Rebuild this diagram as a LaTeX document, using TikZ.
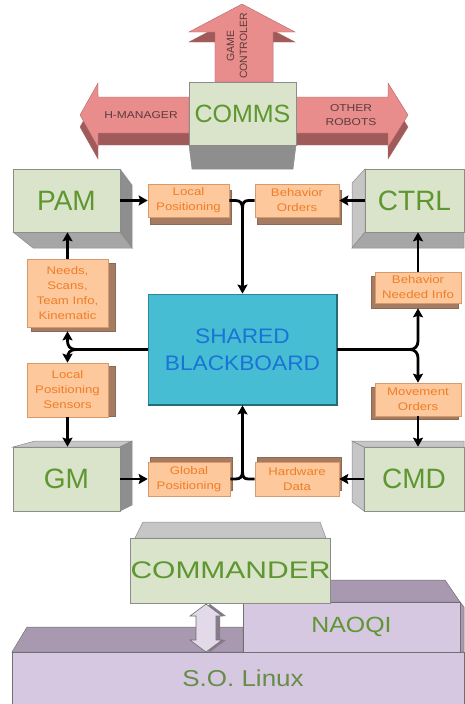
\documentclass[tikz,border=0pt]{standalone}
\usepackage{fontspec}
\setmainfont{Liberation Sans}
\newfontfamily\fwa[FakeStretch=1.2]{Liberation Sans}
\newfontfamily\fwb[FakeStretch=1.25]{Liberation Sans}
\newfontfamily\fwc[FakeStretch=1.13]{Liberation Sans}
\newfontfamily\fwd[FakeStretch=1.08]{Liberation Sans}
\usetikzlibrary{arrows.meta}
\definecolor{fgreen}{HTML}{D9E4CB}
\definecolor{tgreen}{HTML}{5E9630}
\definecolor{edgeg}{HTML}{8C8C8C}
\definecolor{gdark}{HTML}{8E8E8E}
\definecolor{gmid}{HTML}{A6A6A6}
\definecolor{glight}{HTML}{C6C6C6}
\definecolor{pinkf}{HTML}{E98C8C}
\definecolor{pinkd}{HTML}{A05A5A}
\definecolor{pinke}{HTML}{B06A6A}
\definecolor{ptext}{HTML}{5A3C3C}
\definecolor{ofill}{HTML}{FDC89B}
\definecolor{oedge}{HTML}{D89A6A}
\definecolor{otext}{HTML}{F07D28}
\definecolor{obrown}{HTML}{A57C62}
\definecolor{sbfill}{HTML}{47BDD4}
\definecolor{sbedge}{HTML}{2D8796}
\definecolor{sbtext}{HTML}{1A73D6}
\definecolor{pfront}{HTML}{D6C8E0}
\definecolor{ptop}{HTML}{A898B0}
\definecolor{pedge}{HTML}{707070}
\definecolor{ltext}{HTML}{678C4A}
\begin{document}
\begin{tikzpicture}[x=1pt,y=-1pt,
  front/.style={draw=edgeg, line width=0.6pt, fill=fgreen, text=tgreen, inner sep=0pt,
    font=\fontsize{28}{30}\selectfont},
  faced/.style={fill=gdark, draw=edgeg, line width=0.5pt},
  facem/.style={fill=gmid, draw=edgeg, line width=0.5pt},
  facel/.style={fill=glight, draw=edgeg, line width=0.5pt},
  obox/.style={draw=oedge, line width=0.6pt, fill=ofill, text=otext, inner sep=0pt, align=center,
    font=\fwa\fontsize{11}{15}\selectfont},
  oshadow/.style={fill=obrown, draw=obrown!85!black, line width=0.4pt},
  conn/.style={line width=2.8pt, -{Stealth[length=9pt,width=10pt,inset=1.5pt]}},
  wire/.style={line width=2.8pt},
  parrow/.style={fill=pinkf, draw=pinke, line width=0.4pt},
  pdark/.style={fill=pinkd, draw=pinke, line width=0.4pt},
  ptxt/.style={text=ptext, inner sep=0pt, align=center},
  pbox/.style={draw=pedge, line width=0.6pt, fill=pfront, inner sep=0pt},
  ptopface/.style={fill=ptop, draw=pedge, line width=0.5pt}
]
\useasboundingbox (0,0) rectangle (464,704);

% ---------- COMMS arrows ----------
\fill[pdark] [shift={(0,12)}] (189,97) -- (98,97) -- (98,83) -- (80,115) -- (98,147) -- (98,133) -- (189,133) -- cycle;
\filldraw[parrow] (189,97) -- (98,97) -- (98,83) -- (80,115) -- (98,147) -- (98,133) -- (189,133) -- cycle;
\fill[pdark] [shift={(0,12)}] (296,97) -- (388,97) -- (388,83) -- (408,115) -- (388,147) -- (388,133) -- (296,133) -- cycle;
\filldraw[parrow] (296,97) -- (388,97) -- (388,83) -- (408,115) -- (388,147) -- (388,133) -- (296,133) -- cycle;
\fill[pdark] [shift={(0,10)}] (215,82) -- (215,32) -- (189,32) -- (242,4) -- (295,32) -- (273,32) -- (273,82) -- cycle;
\filldraw[parrow] (215,82) -- (215,32) -- (189,32) -- (242,4) -- (295,32) -- (273,32) -- (273,82) -- cycle;
\node[ptxt, font=\fwa\fontsize{10}{12}\selectfont] (hman) at (141,115) {H-MANAGER};
\node[ptxt, font=\fwa\fontsize{10}{14}\selectfont] (oth) at (351,115) {OTHER\\ROBOTS};
\node[ptxt, rotate=90, font=\fontsize{10.5}{13}\selectfont] (game) at (237,46) {GAME\\CONTROLER};

% COMMS box
\filldraw[faced] (189,145) -- (296,145) -- (293,169) -- (192,169) -- cycle;
\node[front, minimum width=107pt, minimum height=63pt, font=\fontsize{25}{27}\selectfont] (comms) at (242.5,113.5) {COMMS};

% ---------- 3D green boxes ----------
% PAM
\filldraw[faced] (120,169) -- (132,185) -- (132,248) -- (120,232) -- cycle;
\filldraw[facem] (13,232) -- (120,232) -- (132,248) -- (33,248) -- cycle;
\node[front, minimum width=107pt, minimum height=63pt] (pam) at (66.5,200.5) {PAM};
% CTRL
\filldraw[facel] (365,169) -- (352,183) -- (352,248) -- (365,232) -- cycle;
\filldraw[facem] (365,232) -- (352,248) -- (464,248) -- (464,232) -- cycle;
\node[front, minimum width=99pt, minimum height=63pt] (ctrl) at (414.5,200.5) {CTRL};
% GM
\filldraw[facel] (13,447) -- (35,441) -- (132,441) -- (120,447) -- cycle;
\filldraw[faced] (120,447) -- (132,441) -- (132,505) -- (120,511) -- cycle;
\node[front, minimum width=107pt, minimum height=64pt] (gm) at (66.5,479) {GM};
% CMD
\filldraw[facel] (364,447) -- (352,441) -- (352,502) -- (364,511) -- cycle;
\filldraw[facel] (352,441) -- (464,441) -- (464,447) -- (364,447) -- cycle;
\node[front, minimum width=100pt, minimum height=64pt] (cmd) at (414,479) {CMD};

% ---------- Shared blackboard ----------
\node[draw=sbedge, line width=0.8pt, fill=sbfill, text=sbtext, inner sep=0pt, align=center,
  minimum width=189pt, minimum height=111pt, font=\fwd\fontsize{21}{27}\selectfont]
  (sb) at (242.5,349.5) {SHARED\\BLACKBOARD};
\draw[sbedge!80!black, line width=2pt] (sb.north east) -- (sb.south east) -- (sb.south west);

% ---------- orange boxes ----------
\fill[oshadow] (150,190) rectangle (231,224);
\node[obox, minimum width=81pt, minimum height=33pt] (lp) at (188.5,200.5) {Local\\Positioning};
\fill[oshadow] (257,190) rectangle (341,224);
\node[obox, minimum width=84pt, minimum height=33pt] (bo) at (297,200.5) {Behavior\\Orders};
\fill[oshadow] (31,263) rectangle (115,331);
\node[obox, minimum width=81pt, minimum height=68pt] (needs) at (67.5,293) {Needs,\\Scans,\\Team Info,\\Kinematic};
\fill[oshadow] (371,276) rectangle (458,308);
\node[obox, minimum width=86pt, minimum height=31pt] (bni) at (418,287.5) {Behavior\\Needed Info};
\fill[oshadow] (31,366) rectangle (115,416);
\node[obox, minimum width=81pt, minimum height=54pt] (lps) at (67.5,390) {Local\\Positioning\\Sensors};
\fill[oshadow] (371,387) rectangle (458,419);
\node[obox, minimum width=86pt, minimum height=33pt] (mo) at (418,399.5) {Movement\\Orders};
\fill[oshadow] (150,457) rectangle (232,490);
\node[obox, minimum width=82pt, minimum height=34pt] (gp) at (189,479) {Global\\Positioning};
\fill[oshadow] (257,457) rectangle (341,490);
\node[obox, minimum width=84pt, minimum height=34pt] (hd) at (297,479) {Hardware\\Data};

% ---------- connectors ----------
\draw[conn] (pam.east) -- (lp.west);
\draw[conn] (ctrl.west) -- (bo.east);
\draw[conn] (gm.east) -- (gp.west);
\draw[conn] (cmd.west) -- (hd.east);
\draw[conn] (needs.north) -- (needs.north |- pam.south);
\draw[conn] (bni.north) -- (bni.north |- ctrl.south);
\draw[conn] (lps.south) -- (lps.south |- gm.north);
\draw[conn] (mo.south) -- (mo.south |- cmd.north);

\coordinate (jt) at (242.5,209);
\draw[wire] (lp.east) -- ++(6,0) .. controls +(5,0) and +(0,-6) .. (jt);
\draw[wire] (bo.west) -- ++(-6,0) .. controls +(-5,0) and +(0,-6) .. (jt);
\draw[conn] (jt) -- (sb.north);

\coordinate (jb) at (242.5,471);
\draw[wire] (gp.east) -- ++(5,0) .. controls +(5,0) and +(0,6) .. (jb);
\draw[wire] (hd.west) -- ++(-6,0) .. controls +(-5,0) and +(0,6) .. (jb);
\draw[conn] (jb) -- (sb.south);

\coordinate (jl) at (76,349.5);
\coordinate (jlu) at (67.5,341);
\coordinate (jld) at (67.5,358);
\draw[wire] (sb.west) -- (jl);
\draw[conn] (jl) .. controls (70,349.5) and (67.5,346) .. (jlu) -- ([yshift=-4pt]needs.south);
\draw[conn] (jl) .. controls (70,349.5) and (67.5,353) .. (jld) -- (lps.north);

\coordinate (jr) at (410,349.5);
\coordinate (jru) at (418,341);
\coordinate (jrd) at (418,358);
\draw[wire] (sb.east) -- (jr);
\draw[conn] (jr) .. controls (415,349.5) and (418,346) .. (jru) -- ([yshift=-5pt]bni.south);
\draw[conn] (jr) .. controls (415,349.5) and (418,353) .. (jrd) -- (mo.north);

% ---------- bottom layers ----------
\filldraw[ptopface] (12,652) -- (27,627) -- (243,627) -- (243,652) -- cycle;
\node[pbox, minimum width=452pt, minimum height=52pt] (linux) at (238,678) {};
\node[text=ltext, inner sep=0pt, font=\fwc\fontsize{23}{25}\selectfont] (linuxlbl) at (243,678) {S.O. Linux};

\filldraw[ptopface] (243,580) -- (445,580) -- (460,602) -- (243,602) -- cycle;
\filldraw[ptopface] (460,602) -- (464,607) -- (464,652) -- (460,652) -- cycle;
\node[pbox, text=tgreen, minimum width=217pt, minimum height=50pt,
  font=\fwc\fontsize{22}{24}\selectfont] (naoqi) at (351.5,627) {NAOQI};

\filldraw[facel] (135,538) -- (143,522) -- (320,522) -- (326,538) -- cycle;
\node[front, minimum width=191pt, minimum height=65pt, font=\fwb\fontsize{24}{26}\selectfont]
  (commander) at (230.5,570.5) {COMMANDER};

% double block arrow COMMANDER <-> Linux
\fill[ptop!80!black] [shift={(4,0)}] (206,604) -- (222,616) -- (216,616) -- (216,640) -- (222,640) -- (206,652) -- (190,640) -- (196,640) -- (196,616) -- (190,616) -- cycle;
\filldraw[fill=pfront!70!white, draw=pedge, line width=0.6pt] (206,604) -- (222,616) -- (216,616) -- (216,640) -- (222,640) -- (206,652) -- (190,640) -- (196,640) -- (196,616) -- (190,616) -- cycle;
\end{tikzpicture}
\end{document}
